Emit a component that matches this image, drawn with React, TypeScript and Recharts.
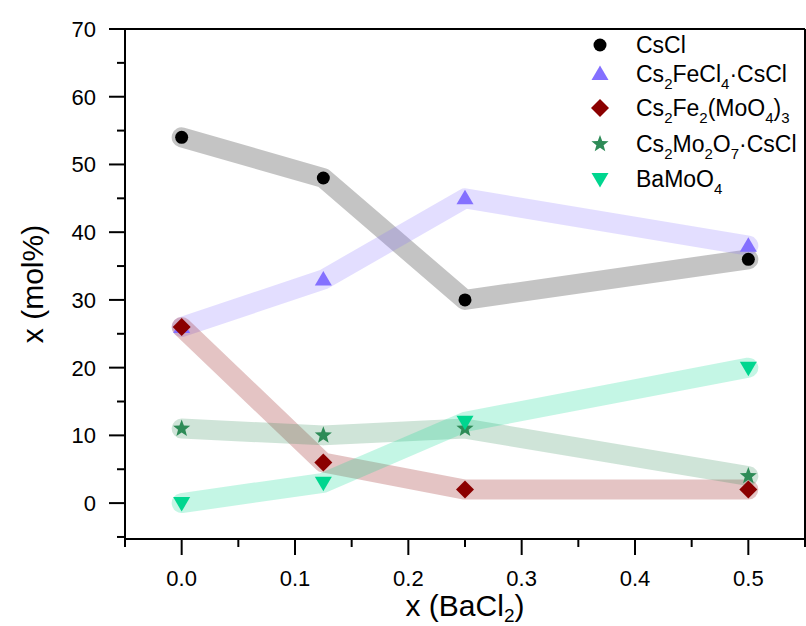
import React from 'react';
import { LineChart, Line, XAxis, YAxis, ReferenceLine } from 'recharts';

// x (BaCl2) compositions
const bacl2 = [0, 0.125, 0.25, 0.5];

// phase fractions, mol%
const cscl = [54, 48, 30, 36];
const cs2fecl4CsCl = [26, 33, 45, 38];
const cs2fe2Moo43 = [26, 6, 2, 2];
const cs2mo2o7CsCl = [11, 10, 11, 4];
const bamoo4 = [0, 3, 12, 20];

const xMajor = [0, 0.1, 0.2, 0.3, 0.4, 0.5];
const xMinor = [-0.05, 0.05, 0.15, 0.25, 0.35, 0.45, 0.55];
const yMajor = [0, 10, 20, 30, 40, 50, 60, 70];
const yMinor = [-5, 5, 15, 25, 35, 45, 55, 65];

const FONT = '"Liberation Sans", Arial, sans-serif';

type Shape = 'circle' | 'up' | 'diamond' | 'star' | 'down';

const series: { key: string; values: number[]; color: string; shape: Shape }[] = [
  { key: 'cscl', values: cscl, color: '#000000', shape: 'circle' },
  { key: 'fecl', values: cs2fecl4CsCl, color: '#8470ff', shape: 'up' },
  { key: 'femo', values: cs2fe2Moo43, color: '#8b0000', shape: 'diamond' },
  { key: 'mo2o7', values: cs2mo2o7CsCl, color: '#2e8b57', shape: 'star' },
  { key: 'bamo', values: bamoo4, color: '#00d68f', shape: 'down' },
];

const data = bacl2.map((x, i) => {
  const row: Record<string, number> = { x };
  series.forEach(s => { row[s.key] = s.values[i]; });
  return row;
});

function Marker({ shape, cx, cy, color }: { shape: Shape; cx: number; cy: number; color: string }) {
  if (cx == null || cy == null) return null;
  if (shape === 'circle') return <circle cx={cx} cy={cy} r={6.5} fill={color} />;
  if (shape === 'up') {
    return <path d={`M${cx},${cy - 8.5} L${cx + 8.5},${cy + 6} L${cx - 8.5},${cy + 6} Z`} fill={color} />;
  }
  if (shape === 'down') {
    return <path d={`M${cx},${cy + 8.5} L${cx + 8.5},${cy - 6} L${cx - 8.5},${cy - 6} Z`} fill={color} />;
  }
  if (shape === 'diamond') {
    return <path d={`M${cx},${cy - 9} L${cx + 9},${cy} L${cx},${cy + 9} L${cx - 9},${cy} Z`} fill={color} />;
  }
  // star
  const pts: string[] = [];
  for (let k = 0; k < 10; k++) {
    const r = k % 2 === 0 ? 9 : 3.8;
    const a = -Math.PI / 2 + (k * Math.PI) / 5;
    pts.push(`${cx + r * Math.cos(a)},${cy + r * Math.sin(a)}`);
  }
  return <polygon points={pts.join(' ')} fill={color} />;
}

const near = (arr: number[], v: number) => arr.some(m => Math.abs(m - v) < 1e-9);

const XTick = (props: any) => {
  const { x, y, payload } = props;
  const major = near(xMajor, payload.value);
  return (
    <g>
      <line x1={x} x2={x} y1={y} y2={y + (major ? 16 : 8)} stroke="#000" strokeWidth={2} />
      {major && (
        <text x={x} y={y + 47} textAnchor="middle" fontSize={22} fontFamily={FONT} fill="#000">
          {payload.value.toFixed(1)}
        </text>
      )}
    </g>
  );
};

const YTick = (props: any) => {
  const { x, y, payload } = props;
  const major = near(yMajor, payload.value);
  return (
    <g>
      <line x1={x - (major ? 16 : 8)} x2={x} y1={y} y2={y} stroke="#000" strokeWidth={2} />
      {major && (
        <text x={x - 29} y={y + 8} textAnchor="end" fontSize={22} fontFamily={FONT} fill="#000">
          {payload.value}
        </text>
      )}
    </g>
  );
};

const legendRows: { shape: Shape; color: string; cy: number; label: React.ReactNode }[] = [
  { shape: 'circle', color: '#000000', cy: 45, label: <>CsCl</> },
  {
    shape: 'up', color: '#8470ff', cy: 74,
    label: <>Cs<tspan dy={7} fontSize={15}>2</tspan><tspan dy={-7}>FeCl</tspan><tspan dy={7} fontSize={15}>4</tspan><tspan dy={-7}>·CsCl</tspan></>,
  },
  {
    shape: 'diamond', color: '#8b0000', cy: 108,
    label: <>Cs<tspan dy={7} fontSize={15}>2</tspan><tspan dy={-7}>Fe</tspan><tspan dy={7} fontSize={15}>2</tspan><tspan dy={-7}>(MoO</tspan><tspan dy={7} fontSize={15}>4</tspan><tspan dy={-7}>)</tspan><tspan dy={7} fontSize={15}>3</tspan></>,
  },
  {
    shape: 'star', color: '#2e8b57', cy: 144,
    label: <>Cs<tspan dy={7} fontSize={15}>2</tspan><tspan dy={-7}>Mo</tspan><tspan dy={7} fontSize={15}>2</tspan><tspan dy={-7}>O</tspan><tspan dy={7} fontSize={15}>7</tspan><tspan dy={-7}>·CsCl</tspan></>,
  },
  {
    shape: 'down', color: '#00d68f', cy: 179,
    label: <>BaMoO<tspan dy={7} fontSize={15}>4</tspan></>,
  },
];

export default function App() {
  return (
    <div style={{ position: 'absolute', left: 0, top: 0, width: 806, height: 626, background: '#fff' }}>
      <LineChart width={806} height={626} data={data} margin={{ top: 29, right: 1, bottom: 0, left: 0 }}>
        <XAxis
          dataKey="x"
          type="number"
          domain={[-0.05, 0.55]}
          ticks={[...xMajor, ...xMinor].sort((a, b) => a - b)}
          interval={0}
          height={87}
          tickSize={0}
          tickMargin={0}
          tickLine={false}
          tick={<XTick />}
          axisLine={{ stroke: '#000', strokeWidth: 2 }}
          allowDataOverflow
          label={{
            content: () => (
              <text x={465} y={616} textAnchor="middle" fontSize={30} fontFamily={FONT} fill="#000">
                x (BaCl<tspan dy={6} fontSize={19}>2</tspan><tspan dy={-6}>)</tspan>
              </text>
            ),
          }}
        />
        <YAxis
          type="number"
          domain={[-5.3, 70]}
          ticks={[...yMajor, ...yMinor].sort((a, b) => a - b)}
          interval={0}
          width={125}
          tickSize={0}
          tickMargin={0}
          tickLine={false}
          tick={<YTick />}
          axisLine={{ stroke: '#000', strokeWidth: 2 }}
          allowDataOverflow
          label={{
            content: () => (
              <text transform="translate(43,284) rotate(-90)" textAnchor="middle" fontSize={30} fontFamily={FONT} fill="#000">
                x (mol%)
              </text>
            ),
          }}
        />
        <ReferenceLine y={70} stroke="#000" strokeWidth={2} />
        <ReferenceLine x={0.55} stroke="#000" strokeWidth={2} />
        {series.map(s => (
          <Line
            key={s.key}
            dataKey={s.key}
            type="linear"
            stroke={s.color}
            strokeOpacity={0.23}
            strokeWidth={20}
            strokeLinecap="round"
            strokeLinejoin="round"
            isAnimationActive={false}
            activeDot={false}
            dot={(p: any) => <Marker key={`${s.key}-${p.index}`} shape={s.shape} cx={p.cx} cy={p.cy} color={s.color} />}
          />
        ))}
      </LineChart>
      <svg width={806} height={626} style={{ position: 'absolute', left: 0, top: 0, pointerEvents: 'none' }}>
        {legendRows.map((r, i) => (
          <g key={i}>
            <Marker shape={r.shape} cx={600} cy={r.cy} color={r.color} />
            <text x={636} y={r.cy + 8} fontSize={23} fontFamily={FONT} fill="#000">
              {r.label}
            </text>
          </g>
        ))}
      </svg>
    </div>
  );
}
